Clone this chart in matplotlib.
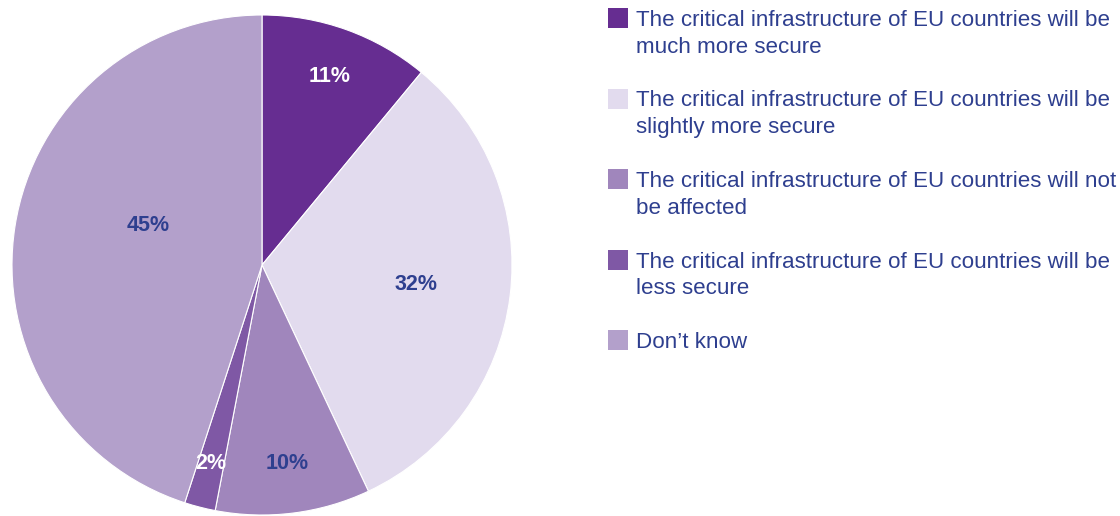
import numpy as np
import matplotlib.pyplot as plt
from matplotlib.patches import Rectangle

labels = [
    "The critical infrastructure of EU countries will be\nmuch more secure",
    "The critical infrastructure of EU countries will be\nslightly more secure",
    "The critical infrastructure of EU countries will not\nbe affected",
    "The critical infrastructure of EU countries will be\nless secure",
    "Don\u2019t know",
]
values = [11, 32, 10, 2, 45]
colors = ["#662d91", "#e2dbee", "#a086bc", "#7f58a5", "#b3a0cb"]
label_colors = ["white", "#2e3f8f", "#2e3f8f", "white", "#2e3f8f"]
label_radius = [0.80, 0.62, 0.80, 0.82, 0.48]

plt.rcParams['font.family'] = ['Liberation Sans', 'DejaVu Sans']
W, H = 1120, 516
fig = plt.figure(figsize=(W / 100, H / 100), dpi=100)

ax = fig.add_axes([12 / W, 1 / H, 500 / W, 500 / H])
wedges, _ = ax.pie(values, colors=colors, startangle=90, counterclock=False,
                   radius=1, wedgeprops=dict(linewidth=0.8, edgecolor='white'))
ax.set_xlim(-1, 1)
ax.set_ylim(-1, 1)
ax.set_aspect('equal')
ax.axis('off')

for w, v, c, r in zip(wedges, values, label_colors, label_radius):
    ang = np.deg2rad((w.theta1 + w.theta2) / 2)
    if v == 45:
        ang = np.deg2rad(161)
    ax.text(r * np.cos(ang), r * np.sin(ang), f"{v}%", ha='center', va='center',
            color=c, fontsize=15.5, fontweight='bold')

# legend drawn by hand
y0 = 18
step = 80.5
for i, (lab, col) in enumerate(zip(labels, colors)):
    yc = y0 + i * step
    fig.patches.append(Rectangle((608 / W, 1 - (yc + 10) / H), 20 / W, 20 / H,
                                 transform=fig.transFigure, facecolor=col,
                                 edgecolor='none'))
    fig.text(636 / W, 1 - (yc - 8) / H, lab, ha='left', va='top',
             color='#2e3f8f', fontsize=16.1, linespacing=1.35)

fig.savefig('out.png', dpi=100)
